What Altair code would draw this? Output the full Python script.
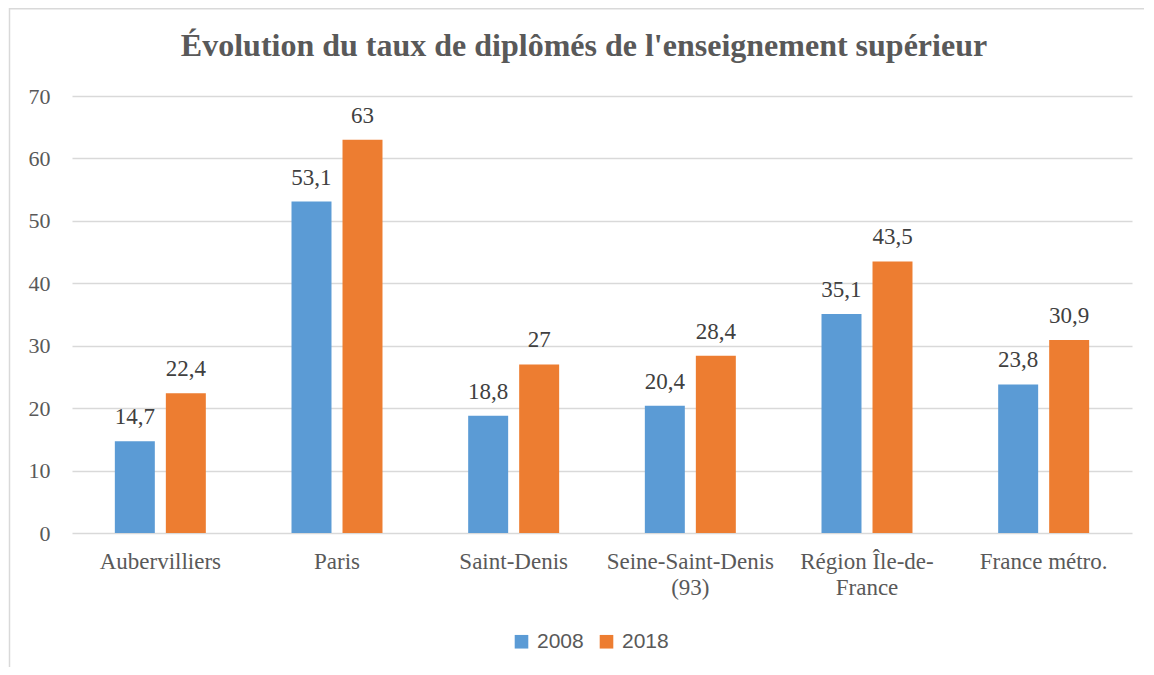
import altair as alt
import pandas as pd

title_text = "Évolution du taux de diplômés de l'enseignement supérieur"
categories = ["Aubervilliers", "Paris", "Saint-Denis", "Seine-Saint-Denis (93)",
              "Région Île-de-France", "France métro."]
values_2008 = [14.7, 53.1, 18.8, 20.4, 35.1, 23.8]
values_2018 = [22.4, 63, 27, 28.4, 43.5, 30.9]
series = ["2008", "2018"]
colors = ["#5B9BD5", "#ED7D31"]
y_ticks = [0, 10, 20, 30, 40, 50, 60, 70]

rows = []
for i, c in enumerate(categories):
    rows.append({"cat": c, "year": "2008", "value": values_2008[i]})
    rows.append({"cat": c, "year": "2018", "value": values_2018[i]})
df = pd.DataFrame(rows)

serif = "Liberation Serif, 'Times New Roman', Times, serif"
sans = "Liberation Sans, Arial, sans-serif"
gray = "#595959"

label_expr = ("datum.value == 'Seine-Saint-Denis (93)' ? ['Seine-Saint-Denis', '(93)'] : "
              "datum.value == 'Région Île-de-France' ? ['Région Île-de-', 'France'] : datum.value")

x = alt.X("cat:N", sort=categories, title=None,
          scale=alt.Scale(paddingInner=0, paddingOuter=0),
          axis=alt.Axis(labelAngle=0, labelFont=serif, labelFontSize=23, labelColor=gray,
                        labelPadding=17, labelBaseline="top", labelLineHeight=26,
                        ticks=False, domain=False, grid=False, labelExpr=label_expr))
xoff = alt.XOffset("year:N", sort=series,
                   scale=alt.Scale(paddingInner=0.216, paddingOuter=0.84))
y = alt.Y("value:Q", title=None,
          scale=alt.Scale(domain=[0, 70], nice=False),
          axis=alt.Axis(values=y_ticks, labelFont=serif, labelFontSize=22, labelColor=gray,
                        labelPadding=22, ticks=False, domain=False,
                        gridColor="#d9d9d9", gridWidth=1.3))

base = alt.Chart(df)

bars = base.mark_bar().encode(
    x=x, xOffset=xoff, y=y,
    color=alt.Color("year:N", sort=series,
                    scale=alt.Scale(domain=series, range=colors),
                    legend=alt.Legend(title=None, orient="none", direction="horizontal",
                                      legendX=439, legendY=535,
                                      symbolType="square", symbolSize=185,
                                      symbolStrokeWidth=0,
                                      labelFont=sans, labelFontSize=21,
                                      labelColor=gray, labelOffset=5, columnPadding=12)),
)

labels = base.mark_text(font=serif, fontSize=23, color="#404040",
                        baseline="alphabetic", dy=-17).transform_calculate(
    lab="replace(format(datum.value, '.1~f'), '.', ',')"
).encode(x=x, xOffset=xoff, y=y, text="lab:N")

title = alt.Chart(pd.DataFrame({"t": [title_text]})).mark_text(
    font=serif, fontSize=32, fontWeight="bold", color=gray,
    align="center", baseline="alphabetic").encode(
    x=alt.value(512), y=alt.value(-40), text="t:N")

border_left = alt.Chart(pd.DataFrame({"a": [0]})).mark_rule(
    color="#d9d9d9", strokeWidth=1.5).encode(
    x=alt.value(-62.5), y=alt.value(-88), y2=alt.value(620))
border_top = alt.Chart(pd.DataFrame({"a": [0]})).mark_rule(
    color="#d9d9d9", strokeWidth=1.5).encode(
    x=alt.value(-63), x2=alt.value(1072), y=alt.value(-87.3))

chart = alt.layer(bars, labels, title, border_left, border_top).properties(
    width=1060, height=437,
    autosize=alt.AutoSizeParams(type="none"),
    padding={"left": 64, "top": 88, "right": 14, "bottom": 134},
).configure_view(stroke=None)

chart.save("out.html", embed_options={"renderer": "svg", "actions": False})
